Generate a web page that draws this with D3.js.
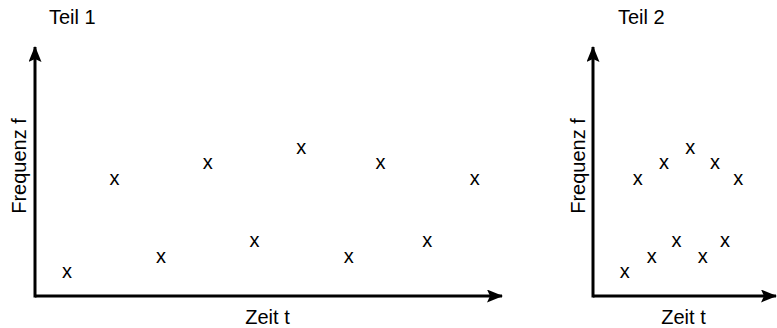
<!DOCTYPE html>
<html>
<head>
<meta charset="utf-8">
<script src="https://cdn.jsdelivr.net/npm/d3@7"></script>
<style>
  body { margin: 0; background: #fff; }
  svg { display: block; }
  text { font-family: "Liberation Sans", Arial, Helvetica, sans-serif; fill: #000; }
</style>
</head>
<body>
<div id="chart"></div>
<script>
// frequency of each tone, same sequence in both parts
const freq = [1.5, 7.5, 2.5, 8.5, 3.5, 9.5, 2.5, 8.5, 3.5, 7.5]
// time of each tone: part 1 spread out, part 2 compressed
const time1 = [2.05, 5.1, 8.1, 11.1, 14.1, 17.1, 20.15, 22.2, 25.2, 28.25]
const time2 = [2.05, 2.9, 3.8, 4.6, 5.4, 6.3, 7.1, 7.9, 8.55, 9.4]
const titles = ['Teil 1', 'Teil 2']
const xLabel = 'Zeit t'
const yLabel = 'Frequenz f'

const width = 777
const height = 328
const fontSize = 20

const svg = d3.select('#chart').append('svg')
  .attr('width', width)
  .attr('height', height)

svg.append('defs').append('marker')
  .attr('id', 'arrow')
  .attr('viewBox', '0 0 16 13')
  .attr('refX', 15)
  .attr('refY', 6.5)
  .attr('markerWidth', 16)
  .attr('markerHeight', 13)
  .attr('markerUnits', 'userSpaceOnUse')
  .attr('orient', 'auto')
  .append('path')
  .attr('d', 'M0,0 L16,6.5 L0,13 L3,6.5 Z')
  .attr('fill', '#000')

const panels = [
  { title: titles[0], time: time1, x: d3.scaleLinear().domain([0, 30]).range([35, 502]),
    titleX: 49, yLabelX: 18.5 },
  { title: titles[1], time: time2, x: d3.scaleLinear().domain([0, 11.85]).range([593, 776]),
    titleX: 618, yLabelX: 578 },
]

const y = d3.scaleLinear().domain([0, 16]).range([296, 47])

panels.forEach((p) => {
  const g = svg.append('g')
  const [x0, x1] = p.x.range()
  const [y0, y1] = y.range()

  // axes with arrow heads
  g.append('line')
    .attr('x1', x0).attr('y1', y0)
    .attr('x2', x1).attr('y2', y0)
    .attr('stroke', '#000').attr('stroke-width', 3)
    .attr('marker-end', 'url(#arrow)')
  g.append('line')
    .attr('x1', x0).attr('y1', y0 + 1.5)
    .attr('x2', x0).attr('y2', y1)
    .attr('stroke', '#000').attr('stroke-width', 3)
    .attr('marker-end', 'url(#arrow)')

  g.append('text')
    .attr('x', p.titleX).attr('y', 24)
    .attr('font-size', fontSize)
    .text(p.title)

  g.append('text')
    .attr('x', (x0 + x1) / 2 - 1).attr('y', 324)
    .attr('text-anchor', 'middle')
    .attr('font-size', fontSize)
    .text(xLabel)

  g.append('text')
    .attr('transform', `translate(${p.yLabelX + 7},166) rotate(-90)`)
    .attr('text-anchor', 'middle')
    .attr('font-size', fontSize)
    .text(yLabel)

  // tones drawn as "x"
  g.selectAll('.tone')
    .data(freq.map((f, i) => ({ t: p.time[i], f })))
    .join('text')
    .attr('class', 'tone')
    .attr('x', d => p.x(d.t))
    .attr('y', d => y(d.f))
    .attr('dy', '0.28em')
    .attr('text-anchor', 'middle')
    .attr('font-size', fontSize)
    .text('x')
})
</script>
</body>
</html>
